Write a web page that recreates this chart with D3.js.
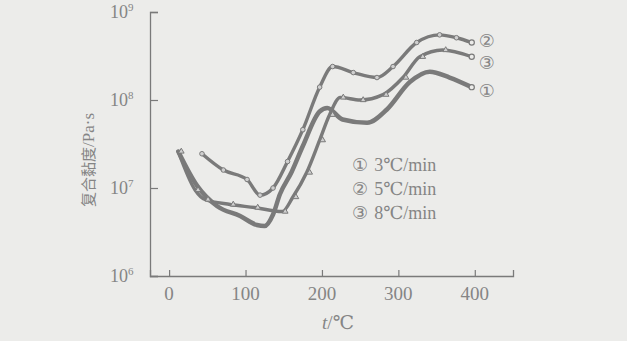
<!DOCTYPE html>
<html>
<head>
<meta charset="utf-8">
<script src="https://cdn.jsdelivr.net/npm/d3@7"></script>
<style>
  body { margin: 0; background: #ececea; }
  svg { display: block; }
  text { fill: #858585; }
</style>
</head>
<body>
<svg width="627" height="341"></svg>
<script>
// temperature t (°C) and complex viscosity (Pa·s)
const t1 = [12, 37, 63, 93, 115, 125, 136, 145, 160, 175, 197, 207, 227, 259, 285, 315, 341, 367, 396];
const v1 = [2.6e7, 1.05e7, 6.2e6, 4.8e6, 3.8e6, 3.7e6, 5.0e6, 8.5e6, 1.5e7, 3.0e7, 7.4e7, 8.1e7, 6.0e7, 5.5e7, 7.8e7, 1.6e8, 2.1e8, 1.8e8, 1.4e8];

const t2 = [43, 71, 102, 119, 136, 155, 175, 197, 214, 241, 272, 293, 324, 354, 376, 396];
const v2 = [2.45e7, 1.6e7, 1.25e7, 8.3e6, 1.0e7, 2.0e7, 4.6e7, 1.4e8, 2.4e8, 2.05e8, 1.8e8, 2.4e8, 4.5e8, 5.5e8, 5.1e8, 4.5e8];

const t3 = [12, 34, 47, 80, 112, 148, 162, 180, 197, 210, 224, 250, 280, 306, 328, 358, 396];
const v3 = [2.6e7, 9.5e6, 7.4e6, 6.5e6, 6.0e6, 5.4e6, 7.9e6, 1.5e7, 3.5e7, 6.8e7, 1.07e8, 1.0e8, 1.15e8, 1.8e8, 3.1e8, 3.7e8, 3.1e8];

const series = [
  { key: "①", t: t1, v: v1, marker: "dot", width: 4.5, labelDy: 3 },
  { key: "②", t: t2, v: v2, marker: "circle", width: 3.4, labelDy: -3 },
  { key: "③", t: t3, v: v3, marker: "triangle", width: 3.4, labelDy: 5 },
];

const legendRates = ["3℃/min", "5℃/min", "8℃/min"];
const xTicks = [0, 100, 200, 300, 400];
const yExps = [6, 7, 8, 9];

const svg = d3.select("svg");
const ink = "#7a7a7a";
const serif = "'Liberation Serif', 'DejaVu Serif', 'Times New Roman', serif";

const x = d3.scaleLinear().domain([-25, 450]).range([150, 513]);
const y = d3.scaleLog().domain([1e6, 1e9]).range([276, 12]);

// axes, ticks pointing inward
svg.append("g")
  .attr("transform", "translate(0,276)")
  .call(d3.axisBottom(x).tickValues(xTicks).tickSize(-6).tickFormat(""))
  .call(g => g.select(".domain").attr("stroke", ink).attr("stroke-width", 1.3))
  .call(g => g.selectAll(".tick line").attr("stroke", ink).attr("stroke-width", 1.2));

svg.append("g")
  .attr("transform", "translate(150,0)")
  .call(d3.axisLeft(y).tickValues(yExps.map(e => Math.pow(10, e))).tickSize(-8).tickFormat(""))
  .call(g => g.select(".domain").attr("stroke", ink).attr("stroke-width", 1.3))
  .call(g => g.selectAll(".tick line").attr("stroke", ink).attr("stroke-width", 1.2));

svg.append("g")
  .selectAll("text")
  .data(xTicks)
  .join("text")
  .attr("x", d => x(d))
  .attr("y", 300)
  .attr("text-anchor", "middle")
  .attr("font-family", serif)
  .attr("font-size", 19)
  .text(d => d);

const yl = svg.append("g")
  .selectAll("text")
  .data(yExps)
  .join("text")
  .attr("x", 110)
  .attr("y", d => y(Math.pow(10, d)) + 6)
  .attr("font-family", serif)
  .attr("font-size", 18);
yl.append("tspan").text("10");
yl.append("tspan").attr("dy", -7).attr("font-size", 11).text(d => d);

// axis titles
svg.append("text")
  .attr("transform", "translate(94,160) rotate(-90)")
  .attr("text-anchor", "middle")
  .call(t => {
    t.append("tspan").attr("font-family", "Noto Sans CJK SC").attr("font-size", 15).text("复合黏度");
    t.append("tspan").attr("font-family", serif).attr("font-size", 17).text("/Pa·s");
  });

svg.append("text")
  .attr("x", 338)
  .attr("y", 329)
  .attr("text-anchor", "middle")
  .attr("font-family", serif)
  .attr("font-size", 19)
  .call(t => {
    t.append("tspan").attr("font-style", "italic").text("t");
    t.append("tspan").text("/℃");
  });

// curves
const line = d3.line()
  .x(d => x(d[0]))
  .y(d => y(d[1]))
  .curve(d3.curveMonotoneX);

const tri = d3.symbol().type(d3.symbolTriangle).size(14);

series.forEach(s => {
  const pts = s.t.map((t, i) => [t, s.v[i]]);
  const g = svg.append("g");
  g.append("path")
    .attr("d", line(pts))
    .attr("fill", "none")
    .attr("stroke", ink)
    .attr("stroke-width", s.width)
    .attr("stroke-linejoin", "round")
    .attr("stroke-linecap", "round");

  const inner = pts.slice(0, -1);
  if (s.marker === "circle") {
    g.selectAll("circle.m").data(inner).join("circle")
      .attr("class", "m")
      .attr("cx", d => x(d[0])).attr("cy", d => y(d[1]))
      .attr("r", 2.3).attr("fill", "#cfcfcf").attr("stroke", ink).attr("stroke-width", 1);
  } else if (s.marker === "triangle") {
    g.selectAll("path.m").data(inner).join("path")
      .attr("class", "m")
      .attr("transform", d => `translate(${x(d[0]) + 3},${y(d[1])})`)
      .attr("d", tri).attr("fill", "#d0d0d0").attr("stroke", ink).attr("stroke-width", 1);
  }

  // open end marker
  const last = pts[pts.length - 1];
  g.append("circle")
    .attr("cx", x(last[0])).attr("cy", y(last[1]))
    .attr("r", 2.6).attr("fill", "#ececea").attr("stroke", ink).attr("stroke-width", 1.2);

  // number at curve end
  g.append("text")
    .attr("x", x(last[0]) + 15)
    .attr("y", y(last[1]) + 7 + s.labelDy)
    .attr("text-anchor", "middle")
    .attr("font-family", "DejaVu Sans")
    .attr("font-size", 18)
    .text(s.key);
});

// legend
svg.append("g")
  .selectAll("text")
  .data(series)
  .join("text")
  .attr("x", 352)
  .attr("y", (d, i) => 171 + i * 24)
  .attr("font-size", 18)
  .call(t => {
    t.append("tspan").attr("font-family", "DejaVu Sans").text(d => d.key);
    t.append("tspan").attr("font-family", serif).attr("dx", 6).text((d, i) => legendRates[i]);
  });
</script>
</body>
</html>
